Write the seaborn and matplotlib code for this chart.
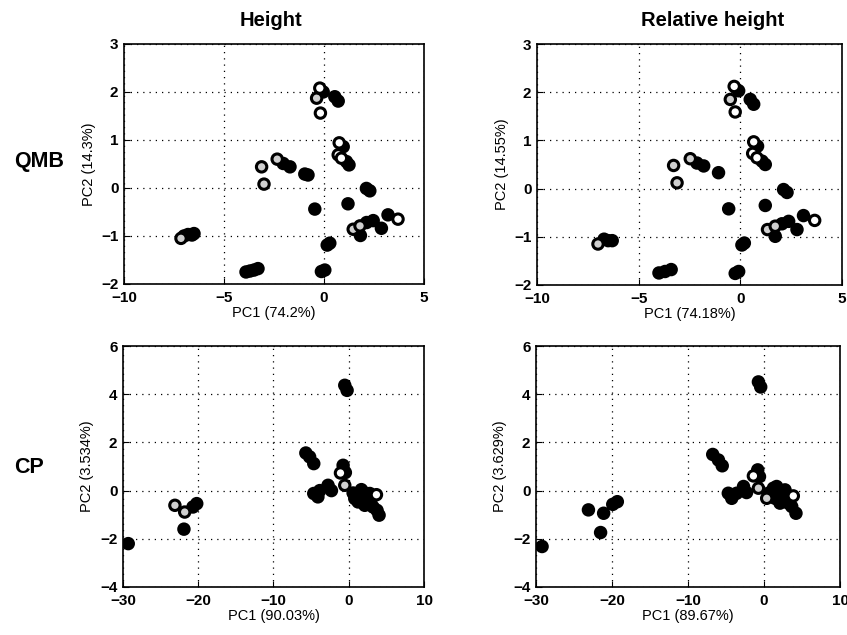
import numpy as np
import pandas as pd
import matplotlib
matplotlib.use('Agg')
import matplotlib.pyplot as plt
import seaborn as sns

# QMB - height
qmb_h_x = [-7.0, -6.8, -6.6, -6.5, -3.9, -3.7, -3.5, -3.3, -2.04, -1.7, -0.96, -0.8,
           -0.46, -0.04, 0.54, 0.71, 0.96, 1.12, 1.25, 2.12, 2.29, 1.2, 0.16, 0.29,
           -0.13, 0.04, 2.13, 2.46, 1.82, 2.87, 3.2,
           -3.12, -3.0, -2.34, -0.37, 1.46, 1.8, -7.15,
           -0.21, -0.18, 0.76, 0.71, 0.87, 3.7]
qmb_h_y = [-1.0, -0.97, -0.98, -0.95, -1.75, -1.73, -1.71, -1.68, 0.51, 0.44, 0.29, 0.27,
           -0.44, 2.0, 1.9, 1.81, 0.86, 0.55, 0.48, -0.01, -0.06, -0.33, -1.19, -1.15,
           -1.74, -1.71, -0.72, -0.68, -0.99, -0.84, -0.56,
           0.44, 0.08, 0.6, 1.87, -0.86, -0.79, -1.05,
           2.08, 1.56, 0.94, 0.69, 0.62, -0.65]
qmb_h_kind = ['filled'] * 31 + ['dotted'] * 7 + ['open'] * 6

# QMB - relative height
qmb_r_x = [-6.7, -6.5, -6.3, -4.0, -3.7, -3.4, -2.13, -1.8, -1.07, -0.57, -0.08, 0.49,
           0.66, 0.85, 1.07, 1.23, 2.13, 2.3, 1.23, 0.08, 0.2, -0.25, -0.08, 2.05,
           2.38, 1.72, 2.79, 3.11,
           -7.0, -3.28, -3.11, -2.46, -0.49, 1.34, 1.72,
           -0.3, -0.25, 0.66, 0.61, 0.82, 3.66]
qmb_r_y = [-1.05, -1.08, -1.08, -1.75, -1.72, -1.68, 0.53, 0.47, 0.33, -0.42, 2.03, 1.85,
           1.75, 0.88, 0.57, 0.5, -0.02, -0.08, -0.35, -1.17, -1.13, -1.76, -1.72, -0.73,
           -0.68, -0.99, -0.85, -0.56,
           -1.15, 0.48, 0.12, 0.62, 1.85, -0.85, -0.78,
           2.12, 1.59, 0.97, 0.73, 0.64, -0.66]
qmb_r_kind = ['filled'] * 28 + ['dotted'] * 7 + ['open'] * 6

# CP - height
cp_h_x = [-29.3, -20.7, -20.2, -21.9, -5.7, -5.2, -4.65, -4.65, -4.1, -3.85, -2.75, -2.3,
          -0.53, -0.22, -0.75, -0.45, 0.58, 1.0, 1.46, 1.68, 1.9, 2.35, 2.57, 3.0,
          3.23, 3.76, 4.03, 1.24, 2.13, 0.8, 2.8,
          -23.1, -21.8, -0.53,
          -1.1, 3.68]
cp_h_y = [-2.2, -0.68, -0.54, -1.6, 1.56, 1.4, 1.12, -0.12, -0.26, 0.0, 0.22, 0.0,
          4.37, 4.16, 1.05, 0.75, -0.1, -0.19, -0.26, 0.04, -0.4, -0.12, -0.54, -0.33,
          -0.68, -0.82, -1.02, -0.47, -0.61, -0.33, -0.12,
          -0.61, -0.89, 0.22,
          0.73, -0.17]
cp_h_kind = ['filled'] * 31 + ['dotted'] * 3 + ['open'] * 2

# CP - relative height
cp_r_x = [-29.2, -23.1, -21.1, -21.5, -19.9, -19.3, -6.75, -6.0, -5.5, -4.7, -4.25, -3.6,
          -2.7, -2.3, -0.74, -0.44, -0.83, -0.6, 0.57, 1.23, 1.66, 1.88, 2.32, 2.54,
          2.98, 3.2, 3.64, 4.2, 1.45, 2.76, 2.1,
          -0.74, 0.35,
          -1.4, 3.85]
cp_r_y = [-2.32, -0.8, -0.94, -1.74, -0.57, -0.46, 1.5, 1.27, 1.03, -0.11, -0.32, -0.11,
          0.17, -0.08, 4.51, 4.3, 0.86, 0.58, -0.11, 0.1, 0.17, -0.25, -0.04, -0.39,
          -0.18, -0.52, -0.66, -0.94, -0.32, 0.03, -0.52,
          0.1, -0.32,
          0.61, -0.22]
cp_r_kind = ['filled'] * 31 + ['dotted'] * 2 + ['open'] * 2

col_titles = ['Height', 'Relative height']
row_titles = ['QMB', 'CP']
x_labels = ['PC1 (74.2%)', 'PC1 (74.18%)', 'PC1 (90.03%)', 'PC1 (89.67%)']
y_labels = ['PC2 (14.3%)', 'PC2 (14.55%)', 'PC2 (3.534%)', 'PC2 (3.629%)']

sns.set_theme(style='white')
plt.rcParams['font.family'] = ['Liberation Sans', 'DejaVu Sans']
plt.rcParams['axes.unicode_minus'] = True
plt.rcParams['text.color'] = 'black'
plt.rcParams['axes.labelcolor'] = 'black'

fig = plt.figure(figsize=(8.47, 6.35), dpi=100)

positions = [
    [0.1464, 0.5528, 0.3542, 0.3780],
    [0.6340, 0.5512, 0.3600, 0.3795],
    [0.1452, 0.0756, 0.3554, 0.3795],
    [0.6328, 0.0756, 0.3590, 0.3795],
]
title_x = [0.49, 0.575]
panels = [
    (qmb_h_x, qmb_h_y, qmb_h_kind),
    (qmb_r_x, qmb_r_y, qmb_r_kind),
    (cp_h_x, cp_h_y, cp_h_kind),
    (cp_r_x, cp_r_y, cp_r_kind),
]
palette = {'filled': 'black', 'dotted': '#cfcfcf', 'open': 'white'}
order = {'filled': 0, 'dotted': 1, 'open': 2}

for i, (px, py, pk) in enumerate(panels):
    ax = fig.add_axes(positions[i])
    df = pd.DataFrame({'pc1': px, 'pc2': py, 'kind': pk})
    df['rank'] = df['kind'].map(order)
    df = df.sort_values('rank', kind='stable')
    sns.scatterplot(data=df, x='pc1', y='pc2', hue='kind', palette=palette,
                    edgecolor='black', linewidth=2.2, s=56, legend=False,
                    ax=ax, zorder=3)

    if i < 2:
        ax.set_xlim(-10, 5)
        ax.set_ylim(-2, 3)
        ax.set_xticks([-10, -5, 0, 5])
        ax.set_yticks([-2, -1, 0, 1, 2, 3])
    else:
        ax.set_xlim(-30, 10)
        ax.set_ylim(-4, 6)
        ax.set_xticks([-30, -20, -10, 0, 10])
        ax.set_yticks([-4, -2, 0, 2, 4, 6])

    ax.grid(True, color='black', linestyle=(0, (1, 4)), linewidth=0.9)
    ax.set_axisbelow(True)
    for sp in ax.spines.values():
        sp.set_color('black')
        sp.set_linewidth(1.2)
    ax.tick_params(direction='in', length=4, width=0.8, color='black',
                   labelsize=11, labelcolor='black')
    ax.tick_params(axis='x', pad=5)
    ax.tick_params(axis='y', pad=4)
    ax.tick_params(bottom=True, left=True)
    for lbl in ax.get_xticklabels() + ax.get_yticklabels():
        lbl.set_fontweight('bold')
    ax.set_xlabel(x_labels[i], fontsize=10.5, color='black', labelpad=1)
    ax.set_ylabel(y_labels[i], fontsize=10.5, color='black', labelpad=4)

    if i < 2:
        ax.text(title_x[i], 1.06, col_titles[i], transform=ax.transAxes,
                fontsize=14.5, fontweight='bold', color='black',
                ha='center', va='bottom')

fig.text(0.017, 0.745, row_titles[0], fontsize=15.5, fontweight='bold',
         color='black', ha='left', va='center')
fig.text(0.017, 0.263, row_titles[1], fontsize=15.5, fontweight='bold',
         color='black', ha='left', va='center')

plt.savefig('out.png', dpi=100)
plt.close()
